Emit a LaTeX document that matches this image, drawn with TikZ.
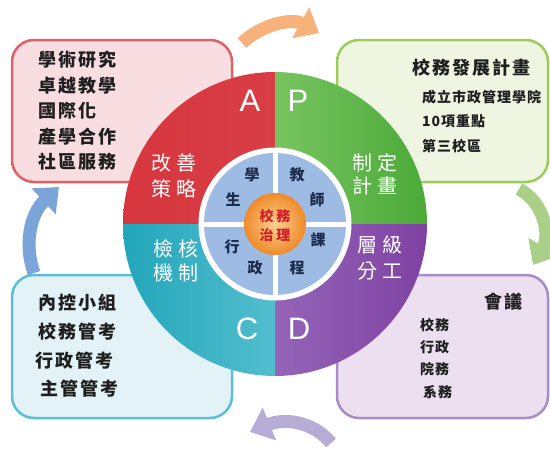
\documentclass[tikz,border=0pt]{standalone}
\usepackage{fontspec}
\setmainfont{Liberation Sans}
\newfontfamily\cjk{Noto Sans CJK TC}
\newfontfamily\cjkL[LetterSpace=11]{Noto Sans CJK TC}
\newfontfamily\cjkS[LetterSpace=7]{Noto Sans CJK TC}
\usetikzlibrary{arrows.meta}
\definecolor{redA}{HTML}{CC1A22}
\definecolor{redL}{HTML}{D7363E}
\definecolor{redR}{HTML}{D83E46}
\definecolor{grnA}{HTML}{4CAE38}
\definecolor{grnL}{HTML}{78C460}
\definecolor{grnR}{HTML}{4AAA38}
\definecolor{tealA}{HTML}{0E93A8}
\definecolor{tealL}{HTML}{23A6BA}
\definecolor{tealR}{HTML}{52BECE}
\definecolor{purA}{HTML}{7F42A2}
\definecolor{purL}{HTML}{B08CD0}
\definecolor{purR}{HTML}{9464B8}
\definecolor{discB}{HTML}{9EBBE3}
\definecolor{coreO}{HTML}{EF8A2A}
\definecolor{coreL}{HTML}{FBD090}
\definecolor{coreT}{HTML}{D0202A}
\definecolor{navy}{HTML}{1C2C4C}
\definecolor{pinkF}{HTML}{F9DEE1}
\definecolor{pinkD}{HTML}{E0606A}
\definecolor{lgrF}{HTML}{EEF6E2}
\definecolor{lgrD}{HTML}{9CCC5A}
\definecolor{cyF}{HTML}{E2F2F6}
\definecolor{cyD}{HTML}{5BBFD6}
\definecolor{lpF}{HTML}{ECDFF0}
\definecolor{lpD}{HTML}{A88CC8}
\definecolor{arO}{HTML}{F6B27A}
\definecolor{arG}{HTML}{A9CF88}
\definecolor{arP}{HTML}{B7ACD6}
\definecolor{arB}{HTML}{7BA4D8}
\begin{document}
\begin{tikzpicture}[x=1pt,y=-1pt,
  box/.style={draw, line width=2.5pt, rounded corners=22pt, inner sep=0pt},
  btxt/.style={anchor=west, inner sep=0pt, text=black!88, font=\cjkL\bfseries\fontsize{18}{20}\selectfont},
  stxt/.style={anchor=west, inner sep=0pt, text=black!88, font=\cjkS\bfseries\fontsize{14}{16}\selectfont},
  qtxt/.style={inner sep=0pt, text=white, font=\cjk\fontsize{20}{22}\selectfont},
  ltr/.style={inner sep=0pt, text=white, font=\fontsize{31}{34}\selectfont},
  itxt/.style={inner sep=0pt, text=navy, font=\cjk\bfseries\fontsize{15}{17}\selectfont},
  ctxt/.style={inner sep=0pt, text=coreT, font=\cjk\bfseries\fontsize{14}{16}\selectfont},
  cyc/.style={line width=13pt, -{Triangle[width=34pt,length=21pt]}}
]
\useasboundingbox (0,0) rectangle (550,455);
\fill[white] (0,0) rectangle (550,455);

% boxes
\node[box, draw=pinkD, fill=pinkF, minimum width=220pt, minimum height=142pt] (boxA) at (122,111) {};
\node[box, draw=lgrD, fill=lgrF, minimum width=211pt, minimum height=142pt] (boxP) at (442.5,111) {};
\node[box, draw=cyD, fill=cyF, minimum width=220pt, minimum height=143pt] (boxC) at (122,346.5) {};
\node[box, draw=lpD, fill=lpF, minimum width=211pt, minimum height=143pt] (boxD) at (442.5,346.5) {};

% cycle arrows
\coordinate (oa) at (242,43);
\coordinate (ob) at (319,33);
\draw[cyc, arO] (oa) .. controls (262,24) and (292,18) .. (ob);
\coordinate (ga) at (519,189);
\coordinate (gb) at (533,265);
\draw[cyc, arG] (ga) .. controls (545,203) and (550,236) .. (gb);
\coordinate (pa) at (331,443);
\coordinate (pb) at (250,432);
\draw[cyc, arP] (pa) .. controls (313,421) and (284,418) .. (pb);
\coordinate (ba) at (34,273);
\coordinate (bb) at (59,187);
\draw[cyc, arB] (ba) .. controls (24,245) and (30,214) .. (bb);

% big circle
\coordinate (O) at (275,224);
\path[left color=redL, middle color=redA, right color=redR] (O) -- ++(180:152) arc[start angle=180, end angle=270, radius=152] -- cycle;
\path[left color=grnL, middle color=grnA, right color=grnR] (O) -- ++(270:152) arc[start angle=270, end angle=360, radius=152] -- cycle;
\path[left color=purR, middle color=purA, right color=purA] (O) -- ++(0:152) arc[start angle=0, end angle=90, radius=152] -- cycle;
\path[left color=tealL, middle color=tealA, right color=tealR] (O) -- ++(90:152) arc[start angle=90, end angle=180, radius=152] -- cycle;

% inner ring
\node[circle, fill=white, minimum size=153pt, inner sep=0pt] (ring) at (O) {};
\node[circle, fill=discB, minimum size=142pt, inner sep=0pt] (disc) at (O) {};
\draw[white, line width=5pt] (disc.north) -- (disc.south);
\draw[white, line width=5pt] (disc.west) -- (disc.east);
\node[circle, inner color=coreL, outer color=coreO, minimum size=62pt, inner sep=0pt] (core) at (O) {};

% letters
\node[ltr] (lA) at (250,101) {A};
\node[ltr] (lP) at (298,101) {P};
\node[ltr] (lC) at (247,329) {C};
\node[ltr] (lD) at (299,329) {D};

% quadrant labels
\node[qtxt] (qa1) at (174,163) {改\hspace{5pt}善};
\node[qtxt] (qa2) at (174,189) {策\hspace{5pt}略};
\node[qtxt] (qp1) at (375,163) {制\hspace{5pt}定};
\node[qtxt] (qp2) at (375,186) {計\hspace{5pt}畫};
\node[qtxt] (qc1) at (176,249) {檢\hspace{5pt}核};
\node[qtxt] (qc2) at (176,273) {機\hspace{5pt}制};
\node[qtxt] (qd1) at (380,245) {層\hspace{5pt}級};
\node[qtxt] (qd2) at (380,271) {分\hspace{5pt}工};

% inner ring labels
\node[itxt] (i1) at (252,175) {學};
\node[itxt] (i2) at (233,200) {生};
\node[itxt] (i3) at (297,175) {教};
\node[itxt] (i4) at (317,200) {師};
\node[itxt] (i5) at (232,247) {行};
\node[itxt] (i6) at (255,268) {政};
\node[itxt] (i7) at (318,240) {課};
\node[itxt] (i8) at (297,268) {程};
\node[ctxt] (c1) at (275,216) {校\hspace{3pt}務};
\node[ctxt] (c2) at (275,235) {治\hspace{3pt}理};

% box texts
\node[btxt] (a1) at (38,60) {學術研究};
\node[btxt] (a2) at (38,85.5) {卓越教學};
\node[btxt] (a3) at (38,111) {國際化};
\node[btxt] (a4) at (38,136.5) {產學合作};
\node[btxt] (a5) at (38,162) {社區服務};

\node[btxt] (p1) at (412,68) {校務發展計畫};
\node[stxt] (p2) at (422,97) {成立市政管理學院};
\node[stxt] (p3) at (422,121) {10項重點};
\node[stxt] (p4) at (422,146) {第三校區};

\node[btxt] (c3) at (38,303) {內控小組};
\node[btxt] (c4) at (38,332) {校務管考};
\node[btxt] (c5) at (35,361) {行政管考};
\node[btxt] (c6) at (40,389) {主管管考};

\node[btxt] (d1) at (484,302) {會議};
\node[stxt] (d2) at (420,325) {校務};
\node[stxt] (d3) at (420,347) {行政};
\node[stxt] (d4) at (420,369) {院務};
\node[stxt] (d5) at (423,392) {系務};
\end{tikzpicture}
\end{document}
